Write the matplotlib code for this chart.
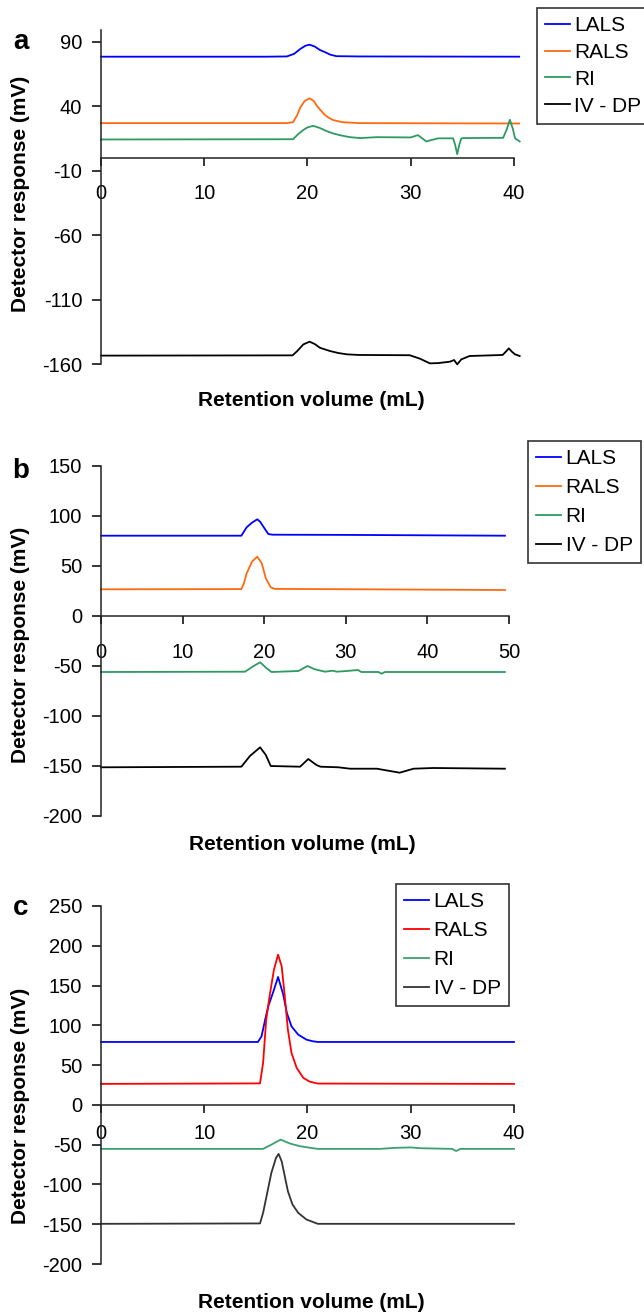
import matplotlib.pyplot as plt

plt.rcParams['font.family'] = ['Liberation Sans', 'DejaVu Sans']
plt.rcParams['axes.unicode_minus'] = False

labels = ["LALS", "RALS", "RI", "IV - DP"]

# panel a
a_lals_x = [0, 16.0, 18.0, 18.7, 19.3, 19.8, 20.2, 20.7, 21.2, 21.7, 22.2, 22.8, 25.0, 40.5]
a_lals_y = [78.3, 78.3, 78.5, 80.5, 84.3, 86.8, 87.6, 86.2, 83.5, 81.8, 79.9, 78.7, 78.5, 78.3]
a_rals_x = [0, 18.0, 18.6, 19.0, 19.3, 19.75, 20.2, 20.6, 20.9, 21.3, 21.7, 22.1, 22.5, 23.4, 25.0, 40.5]
a_rals_y = [26.8, 26.8, 27.5, 33.0, 39.0, 44.1, 46.0, 44.0, 40.3, 36.5, 33.0, 30.8, 29.1, 27.5, 26.8, 26.5]
a_ri_x = [0, 18.6, 19.1, 19.6, 20.0, 20.55, 21.2, 21.8, 22.4, 23.1, 24.1, 25.1, 26.7, 30.0, 30.7,
          31.5, 32.65, 34.1, 34.3, 34.5, 34.7, 34.9, 35.2, 38.95, 39.3, 39.6, 39.9, 40.1, 40.55]
a_ri_y = [14.1, 14.3, 18.3, 21.5, 23.5, 24.7, 23.0, 20.8, 19.0, 17.5, 15.9, 15.2, 15.9, 15.7, 17.5,
          12.6, 15.0, 15.0, 10.0, 2.7, 10.0, 15.0, 15.2, 15.4, 22.0, 29.4, 22.0, 15.0, 12.6]
a_iv_x = [0, 18.55, 19.0, 19.6, 20.2, 20.7, 21.2, 22.2, 23.0, 23.8, 25.0, 29.9, 30.9, 31.85, 32.65,
          33.8, 34.2, 34.5, 34.9, 35.7, 38.9, 39.2, 39.5, 39.8, 40.1, 40.55]
a_iv_y = [-153.5, -153.3, -150.0, -144.8, -142.7, -144.5, -147.4, -150.0, -151.5, -152.5, -153.0,
          -153.2, -155.9, -159.5, -159.3, -158.2, -156.9, -160.3, -156.4, -153.8, -153.0, -150.5,
          -147.9, -150.5, -152.5, -153.8]

# panel b
b_lals_x = [0, 17.2, 17.85, 18.5, 19.15, 19.5, 19.9, 20.5, 21.0, 30.0, 49.5]
b_lals_y = [80.0, 80.0, 88.4, 93.0, 96.4, 94.0, 89.0, 81.7, 81.0, 80.8, 80.0]
b_rals_x = [0, 17.2, 17.5, 17.85, 18.5, 19.15, 19.7, 20.2, 20.8, 21.3, 49.5]
b_rals_y = [26.4, 26.6, 32.0, 42.4, 54.0, 59.0, 52.4, 37.4, 28.4, 26.8, 25.7]
b_ri_x = [0, 17.65, 18.7, 19.5, 20.3, 20.9, 24.2, 25.3, 26.2, 27.45, 28.4, 28.9, 30.1, 31.5, 31.9,
          34.0, 34.4, 34.8, 49.5]
b_ri_y = [-56.3, -56.0, -50.3, -46.6, -52.6, -56.3, -55.3, -50.3, -53.6, -56.0, -55.0, -56.0,
          -55.3, -54.3, -56.3, -56.3, -58.0, -56.3, -56.3]
b_iv_x = [0, 17.2, 18.25, 19.5, 20.2, 20.8, 24.4, 25.4, 26.4, 26.9, 29.1, 30.5, 33.8, 36.6, 38.3, 40.7, 49.5]
b_iv_y = [-151.6, -151.0, -140.3, -131.6, -139.3, -150.3, -151.0, -143.3, -149.3, -151.0, -151.6,
          -153.0, -153.0, -157.0, -153.0, -152.3, -153.0]

# panel c
c_lals_x = [0, 15.2, 15.55, 15.9, 16.2, 16.7, 17.15, 17.65, 18.0, 18.45, 19.1, 19.9, 20.5, 21.0, 40.0]
c_lals_y = [79.1, 79.1, 86.2, 107.2, 123.9, 142.7, 160.8, 138.6, 115.6, 98.7, 88.3, 82.0, 80.0, 79.1, 79.1]
c_rals_x = [0, 15.4, 15.7, 16.0, 16.35, 16.75, 17.15, 17.5, 17.8, 18.1, 18.45, 18.95, 19.6, 20.2, 21.0, 40.0]
c_rals_y = [26.4, 27.0, 52.8, 107.2, 138.6, 170.0, 188.8, 174.1, 136.4, 94.6, 65.3, 46.5, 33.9, 29.3, 26.8, 26.4]
c_ri_x = [0, 15.7, 16.5, 17.4, 18.3, 19.3, 20.3, 21.0, 27.0, 28.5, 30.0, 31.0, 34.0, 34.4, 34.8, 40.0]
c_ri_y = [-55.3, -55.3, -50.0, -43.6, -48.6, -52.0, -54.0, -55.3, -55.3, -54.0, -53.5, -54.5,
          -55.3, -58.0, -55.3, -55.3]
c_iv_x = [0, 15.4, 15.7, 16.1, 16.5, 16.95, 17.2, 17.5, 17.8, 18.1, 18.55, 19.1, 19.9, 21.0, 40.0]
c_iv_y = [-149.5, -149.0, -135.7, -110.6, -85.4, -66.6, -61.6, -71.0, -89.7, -108.5, -125.3,
          -135.7, -144.1, -149.5, -149.5]

W, H = 644, 1314
fig = plt.figure(figsize=(W / 100, H / 100), dpi=100)


def px_axes(left, top, right, bottom):
    return fig.add_axes([left / W, 1 - bottom / H, (right - left) / W, (bottom - top) / H])


def setup(ax, xmax, ylim, yticks, xpad):
    ax.set_xlim(0, xmax)
    ax.set_ylim(*ylim)
    ax.spines['top'].set_visible(False)
    ax.spines['right'].set_visible(False)
    ax.spines['bottom'].set_position(('data', 0))
    for s in ('left', 'bottom'):
        ax.spines[s].set_linewidth(1.1)
        ax.spines[s].set_color('#222222')
    ax.set_xticks(range(0, xmax + 1, 10))
    ax.set_yticks(yticks)
    ax.tick_params(axis='x', direction='out', length=5.5, width=1.1, pad=xpad, labelsize=14.5)
    ax.tick_params(axis='y', direction='out', length=6.5, width=1.1, pad=7, labelsize=14.5)
    ax.patch.set_visible(False)


def draw(ax, data, colors, leg_anchor, spacing):
    lines = []
    for (x, y), c, lab in zip(data, colors, labels):
        ln, = ax.plot(x, y, color=c, lw=1.3, label=lab, clip_on=False)
        lines.append(ln)
    leg = ax.legend(handles=lines, loc='upper left',
                    bbox_to_anchor=(leg_anchor[0] / W, 1 - leg_anchor[1] / H),
                    bbox_transform=fig.transFigure, borderaxespad=0,
                    fontsize=15, frameon=True, fancybox=False, framealpha=1,
                    handlelength=1.2, handletextpad=0.22, labelspacing=spacing,
                    borderpad=0.38)
    leg.get_frame().set_edgecolor('#333333')
    leg.get_frame().set_linewidth(1.2)


# a
ax_a = px_axes(101, 30, 514, 364)
setup(ax_a, 40, (-160, 99), [-160, -110, -60, -10, 40, 90], 13.5)
draw(ax_a, [(a_lals_x, a_lals_y), (a_rals_x, a_rals_y), (a_ri_x, a_ri_y), (a_iv_x, a_iv_y)],
     ['#0000ff', '#ff6a10', '#2e9a62', '#000000'], (537, 8), 0.38)

# b
ax_b = px_axes(101, 465.7, 509, 815.7)
setup(ax_b, 50, (-200, 150), [-200, -150, -100, -50, 0, 50, 100, 150], 14.5)
draw(ax_b, [(b_lals_x, b_lals_y), (b_rals_x, b_rals_y), (b_ri_x, b_ri_y), (b_iv_x, b_iv_y)],
     ['#0000ff', '#ff6a10', '#2e9a62', '#000000'], (528, 441), 0.48)

# c
ax_c = px_axes(101, 906, 514, 1264)
setup(ax_c, 40, (-200, 250), [-200, -150, -100, -50, 0, 50, 100, 150, 200, 250], 8)
draw(ax_c, [(c_lals_x, c_lals_y), (c_rals_x, c_rals_y), (c_ri_x, c_ri_y), (c_iv_x, c_iv_y)],
     ['#0000ff', '#ff0000', '#3ca070', '#333333'], (396, 884), 0.48)

for lab, by in [('a', 49), ('b', 478), ('c', 915)]:
    fig.text(21 / W, 1 - by / H, lab, fontsize=20, fontweight='bold', ha='center', va='baseline')

for cx, cy in [(311, 400), (302, 845), (311, 1303)]:
    fig.text(cx / W, 1 - cy / H, 'Retention volume (mL)', fontsize=15, fontweight='bold',
             ha='center', va='center')

for cy in [194, 645, 1106]:
    fig.text(21 / W, 1 - cy / H, 'Detector response (mV)', fontsize=15, fontweight='bold',
             rotation=90, ha='center', va='center')

fig.savefig('out.png', dpi=100)
